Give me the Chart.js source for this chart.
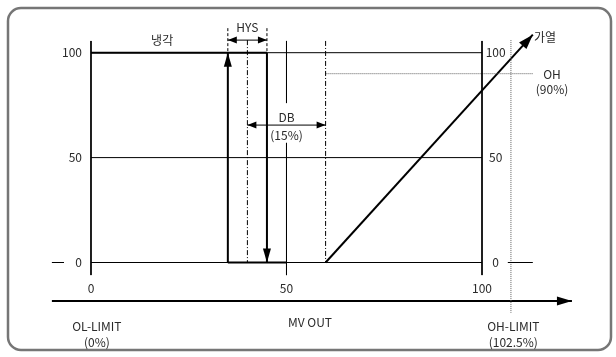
<!DOCTYPE html>
<html>
<head>
<meta charset="utf-8">
<script src="https://cdn.jsdelivr.net/npm/chart.js@4/dist/chart.umd.min.js"></script>
<style>
html, body { margin: 0; padding: 0; background: #fff; }
canvas { display: block; }
</style>
</head>
<body>
<canvas id="myChart" width="616" height="357"></canvas>
<script>
// tick labels
var xTicks = [0, 50, 100];
var yTicks = [0, 50, 100];

// control values (MV %)
var hysBand = [35, 45];
var hysMid = 40;
var dbBand = [40, 60];
var coolLevel = [100, 0];
var heatX = [60, 113];
var heatY = [0, 108.6];
var ohLevel = 90;
var ohLimit = 107.4;

// axis window so that 0..100 sits where the drawing has it
var X_MIN = -23.27, X_MAX = 134.27;
var Y_MIN = -45.04, Y_MAX = 125.12;

var FONT = '12px "Noto Sans CJK KR", "Noto Sans", sans-serif';
var TXT = '#2a2a2a';

function seg(x1, y1, x2, y2, opt) {
    var d = {
        data: [{ x: x1, y: y1 }, { x: x2, y: y2 }],
        showLine: true,
        borderColor: '#000',
        borderWidth: 1,
        pointRadius: 0,
        borderCapStyle: 'butt',
        fill: false
    };
    for (var k in opt) d[k] = opt[k];
    return d;
}

var lineTop = 105.6, lineBottom = -6;
var datasets = [];
// grid lines at 100 / 50 / 0
yTicks.forEach(function (v) {
    datasets.push(seg(xTicks[0], v, xTicks[2], v));
});
datasets.push(seg(-10, 0, -6.9, 0));
datasets.push(seg(106.6, 0, 113, 0));
// verticals 0 / 50 / 100 with tick stubs (the 50 one leaves room for the DB text)
xTicks.forEach(function (v) {
    if (v === 50) {
        datasets.push(seg(v, lineTop, v, 76));
        datasets.push(seg(v, 57, v, lineBottom));
    } else {
        datasets.push(seg(v, lineTop, v, lineBottom));
    }
});
// HYS limits and centre
datasets.push(seg(hysBand[0], 111.7, hysBand[0], 100, { borderDash: [3, 2] }));
datasets.push(seg(hysBand[1], 111.7, hysBand[1], 100, { borderDash: [3, 2] }));
datasets.push(seg(hysMid, 106, hysMid, 0, { borderDash: [5, 2, 1, 2] }));
// DB end
datasets.push(seg(dbBand[1], lineTop, dbBand[1], 0, { borderDash: [5, 2, 1, 2] }));
// OH level and OH-LIMIT
datasets.push(seg(dbBand[1], ohLevel, heatX[1], ohLevel, { borderColor: '#5e5e5e', borderDash: [1, 1] }));
datasets.push(seg(ohLimit, 106, ohLimit, -24, { borderColor: '#5e5e5e', borderDash: [1, 1] }));
// cooling
datasets.push(seg(0, coolLevel[0], hysBand[1], coolLevel[0], { borderWidth: 2 }));
datasets.push(seg(hysBand[1], coolLevel[0], hysBand[1], coolLevel[1], { borderWidth: 2, arrow: { end: true, len: 14, half: 4 } }));
datasets.push(seg(hysBand[0], coolLevel[1], hysBand[0], coolLevel[0], { borderWidth: 2, arrow: { end: true, len: 14, half: 4 } }));
datasets.push(seg(hysBand[0], coolLevel[1], 50, coolLevel[1], { borderWidth: 2 }));
// heating
datasets.push(seg(heatX[0], heatY[0], heatX[1], heatY[1], { borderWidth: 2, arrow: { end: true, len: 15, half: 5 } }));
// HYS / DB dimension arrows
datasets.push(seg(hysBand[0], 106, hysBand[1], 106, { arrow: { start: true, end: true, len: 9, half: 3.5 } }));
datasets.push(seg(dbBand[0], 65.5, dbBand[1], 65.5, { arrow: { start: true, end: true, len: 9, half: 3.5 } }));
// MV OUT axis
datasets.push(seg(-10, -18.35, 123, -18.35, { borderWidth: 2, arrow: { end: true, len: 15, half: 4.5 } }));

var labels = [
    { t: '냉각', x: 18.2, y: 106 },
    { t: 'HYS', x: hysMid, y: 112 },
    { t: '가열', x: 113.3, y: 107.5, align: 'left' },
    { t: 'OH', x: 117.9, y: 89.8 },
    { t: '(90%)', x: 117.9, y: 82.6 },
    { t: 'DB', x: 50, y: 69.3 },
    { t: '(15%)', x: 50, y: 60.8 },
    { t: 'OL-LIMIT', x: 1.5, y: -30.7 },
    { t: '(0%)', x: 1.5, y: -37.9 },
    { t: 'MV OUT', x: 56, y: -28.8 },
    { t: 'OH-LIMIT', x: 108, y: -30.7 },
    { t: '(102.5%)', x: 108, y: -37.9 }
];
xTicks.forEach(function (v) {
    labels.push({ t: String(v), x: v, y: -12.2 });
});
yTicks.forEach(function (v) {
    labels.push({ t: String(v), x: -2.3, y: v, align: 'right' });
    labels.push({ t: String(v), x: 103.5, y: v });
});

function drawHead(ctx, from, to, len, half) {
    var ang = Math.atan2(to.y - from.y, to.x - from.x);
    ctx.save();
    ctx.translate(to.x, to.y);
    ctx.rotate(ang);
    ctx.beginPath();
    ctx.moveTo(0, 0);
    ctx.lineTo(-len, -half);
    ctx.lineTo(-len, half);
    ctx.closePath();
    ctx.fillStyle = '#000';
    ctx.fill();
    ctx.restore();
}

var frame = {
    id: 'frame',
    beforeDraw: function (chart) {
        var ctx = chart.ctx;
        ctx.save();
        ctx.fillStyle = '#fff';
        ctx.fillRect(0, 0, chart.width, chart.height);
        ctx.strokeStyle = '#767676';
        ctx.lineWidth = 2.5;
        ctx.beginPath();
        ctx.roundRect(8, 8, 603, 342, 13);
        ctx.stroke();
        ctx.restore();
    },
    afterDatasetsDraw: function (chart) {
        var ctx = chart.ctx, sx = chart.scales.x, sy = chart.scales.y;
        chart.data.datasets.forEach(function (ds, i) {
            if (!ds.arrow) return;
            var pts = chart.getDatasetMeta(i).data;
            var a = pts[0], b = pts[pts.length - 1];
            if (ds.arrow.end) drawHead(ctx, a, b, ds.arrow.len, ds.arrow.half);
            if (ds.arrow.start) drawHead(ctx, b, a, ds.arrow.len, ds.arrow.half);
        });
        ctx.save();
        ctx.font = FONT;
        ctx.fillStyle = TXT;
        ctx.textBaseline = 'middle';
        labels.forEach(function (l) {
            ctx.textAlign = l.align || 'center';
            ctx.fillText(l.t, sx.getPixelForValue(l.x), sy.getPixelForValue(l.y));
        });
        ctx.restore();
    }
};

var ctx = document.getElementById('myChart').getContext('2d');
var myChart = new Chart(ctx, {
    type: 'scatter',
    data: { datasets: datasets },
    options: {
        responsive: false,
        animation: false,
        devicePixelRatio: 1,
        events: [],
        layout: { padding: 0 },
        plugins: { legend: { display: false }, tooltip: { enabled: false } },
        scales: {
            x: { type: 'linear', min: X_MIN, max: X_MAX, display: false },
            y: { type: 'linear', min: Y_MIN, max: Y_MAX, display: false }
        }
    },
    plugins: [frame]
});
</script>
</body>
</html>
